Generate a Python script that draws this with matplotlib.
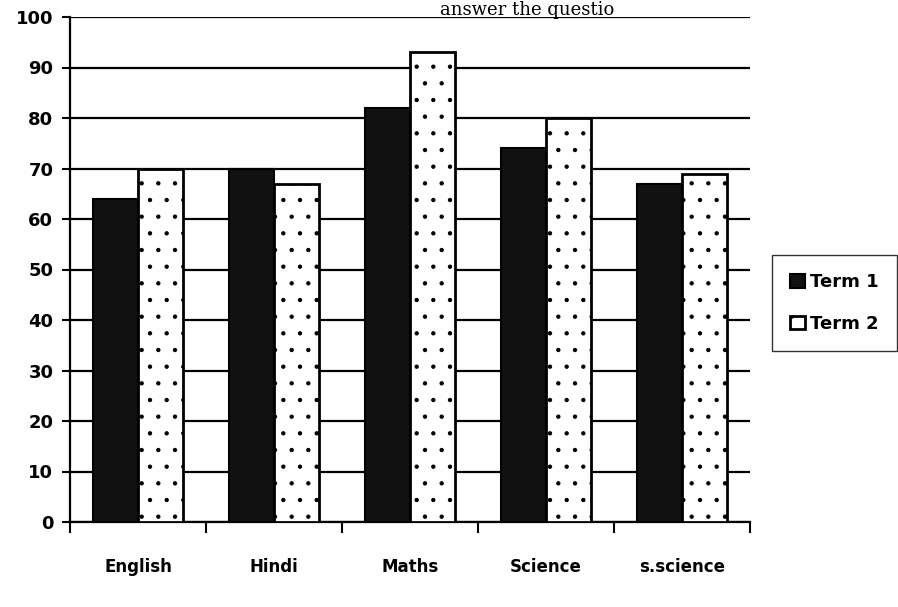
import matplotlib
matplotlib.use("Agg")
import matplotlib.pyplot as plt
import numpy as np

categories = ["English", "Hindi", "Maths", "Science", "s.science"]
term1 = [64, 70, 82, 74, 67]
term2 = [70, 67, 93, 80, 69]
yticks = [0, 10, 20, 30, 40, 50, 60, 70, 80, 90, 100]

plt.rcParams['hatch.linewidth'] = 0.7
fig = plt.figure(figsize=(8.98, 6.07), dpi=100)
ax = fig.add_axes([70/898, 1-522/607, (750-70)/898, (522-17)/607])

x = np.arange(len(categories))
w = 0.33
ax.set_axisbelow(True)
ax.yaxis.grid(True, color='black', linewidth=1.6)
ax.bar(x - w/2, term1, w, color='#111111', edgecolor='black', linewidth=1.5, label='Term 1', zorder=3)
ax.bar(x + w/2, term2, w, color='white', edgecolor='black', linewidth=2.0, hatch='.', label='Term 2', zorder=3)

ax.set_ylim(0, 100)
ax.set_xlim(-0.5, len(categories) - 0.5)
ax.set_yticks(yticks)
ax.set_yticklabels([str(t) for t in yticks], fontsize=13, fontweight='bold')
ax.set_xticks(x)
ax.set_xticklabels(categories, fontsize=12, fontweight='bold')
ax.tick_params(axis='x', length=0, pad=26)
ax.set_xticks(np.arange(len(categories) + 1) - 0.5, minor=True)
ax.tick_params(axis='x', which='minor', length=8, width=1.5, direction='out')
ax.tick_params(axis='y', length=6, width=1.5, direction='out', pad=6)
for s in ['top', 'right']:
    ax.spines[s].set_visible(False)
for s in ['left', 'bottom']:
    ax.spines[s].set_linewidth(1.6)

fig.legend(loc='center left', bbox_to_anchor=(772/898, 1-303/607), frameon=True,
           fancybox=False, edgecolor='black', handlelength=0.8,
           handleheight=0.8, handletextpad=0.3, labelspacing=1.3, borderpad=1.0,
           borderaxespad=0, prop={'weight': 'bold', 'size': 13})
fig.text(0.49, 0.999, "answer the questio", fontsize=13, family='DejaVu Serif',
         ha='left', va='top')
fig.savefig("out.png", dpi=100)
